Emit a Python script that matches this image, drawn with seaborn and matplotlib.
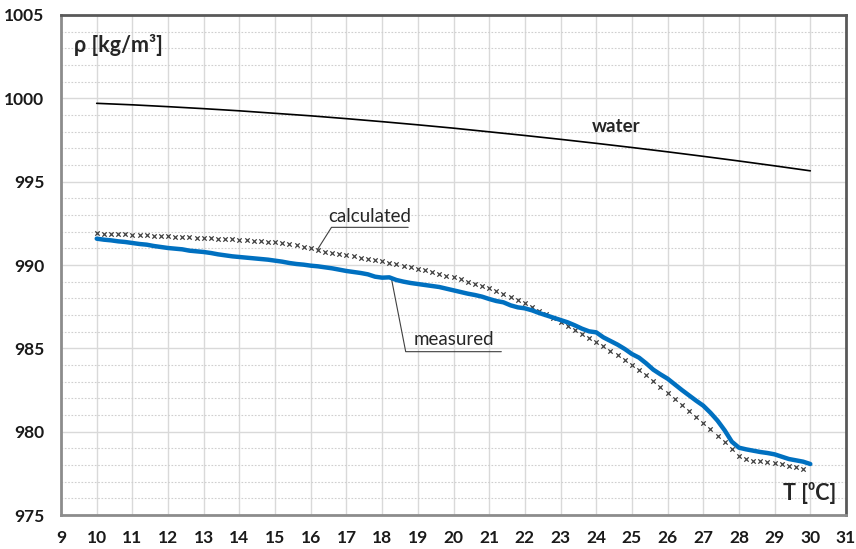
import numpy as np
import pandas as pd
import matplotlib
matplotlib.use("Agg")
import matplotlib.pyplot as plt
from matplotlib.ticker import MultipleLocator
import seaborn as sns

# Temperature grids
t_water = list(range(10, 31))
t_step = [round(10 + 0.2 * i, 1) for i in range(101)]

# Density of pure water [kg/m3]
rho_water = [999.70, 999.61, 999.50, 999.38, 999.25, 999.10, 998.95, 998.78, 998.60, 998.41,
             998.21, 997.99, 997.77, 997.54, 997.30, 997.05, 996.79, 996.52, 996.24, 995.95,
             995.65]

# Calculated density (x markers), 10.0 .. 29.8 step 0.2
rho_calc = [991.90, 991.88, 991.87, 991.85, 991.84, 991.82, 991.80, 991.78, 991.76, 991.74,
            991.72, 991.70, 991.68, 991.66, 991.64, 991.62, 991.60, 991.58, 991.56, 991.54,
            991.52, 991.50, 991.47, 991.44, 991.41, 991.38, 991.33, 991.26, 991.18, 991.08,
            991.00, 990.88, 990.80, 990.74, 990.66, 990.60, 990.52, 990.44, 990.36, 990.28,
            990.22, 990.12, 990.04, 989.96, 989.86, 989.78, 989.68, 989.58, 989.48, 989.36,
            989.26, 989.14, 989.00, 988.88, 988.76, 988.60, 988.44, 988.28, 988.10, 987.92,
            987.70, 987.48, 987.26, 987.04, 986.82, 986.58, 986.36, 986.12, 985.88, 985.62,
            985.38, 985.12, 984.86, 984.58, 984.30, 984.00, 983.70, 983.38, 983.04, 982.68,
            982.30, 981.96, 981.60, 981.24, 980.90, 980.54, 980.16, 979.76, 979.36, 978.94,
            978.54, 978.34, 978.26, 978.24, 978.18, 978.10, 978.04, 977.96, 977.86, 977.78]

# Measured density (blue line), 10.0 .. 30.0 step 0.2
rho_meas = [991.58, 991.52, 991.48, 991.42, 991.38, 991.32, 991.26, 991.22, 991.14, 991.08,
            991.02, 990.98, 990.94, 990.86, 990.82, 990.78, 990.72, 990.64, 990.58, 990.52,
            990.48, 990.44, 990.40, 990.36, 990.32, 990.26, 990.20, 990.12, 990.06, 990.02,
            989.96, 989.92, 989.86, 989.80, 989.72, 989.64, 989.58, 989.52, 989.44, 989.30,
            989.24, 989.26, 989.10, 989.00, 988.92, 988.86, 988.80, 988.74, 988.68, 988.58,
            988.48, 988.38, 988.28, 988.20, 988.10, 987.96, 987.84, 987.76, 987.58, 987.46,
            987.40, 987.28, 987.12, 986.98, 986.84, 986.70, 986.56, 986.38, 986.18, 986.02,
            985.96, 985.66, 985.44, 985.22, 984.96, 984.66, 984.44, 984.10, 983.72, 983.44,
            983.18, 982.84, 982.50, 982.18, 981.86, 981.56, 981.14, 980.66, 980.08, 979.40,
            979.04, 978.94, 978.86, 978.78, 978.72, 978.64, 978.50, 978.36, 978.28, 978.20,
            978.06]

x_ticks = list(range(9, 32))
y_ticks = list(range(975, 1006, 5))

df_water = pd.DataFrame({"T": t_water, "rho": rho_water})
df_calc = pd.DataFrame({"T": t_step[:len(rho_calc)], "rho": rho_calc})
df_meas = pd.DataFrame({"T": t_step, "rho": rho_meas})

sns.set_style("white")
plt.rcParams["font.family"] = ["Lato", "DejaVu Sans"]

fig = plt.figure(figsize=(8.56, 5.49), dpi=100)
ax = fig.add_axes([0.0713, 0.0619, 0.9170, 0.9108])

# grid
ax.xaxis.set_major_locator(MultipleLocator(1))
ax.yaxis.set_major_locator(MultipleLocator(5))
ax.yaxis.set_minor_locator(MultipleLocator(1))
ax.grid(True, which="major", color="#d9d9d9", lw=1.0)
ax.grid(True, which="minor", axis="y", color="#cfcfcf", lw=0.8, ls=(0, (1.5, 1.5)))
ax.set_axisbelow(True)

sns.lineplot(data=df_water, x="T", y="rho", color="black", lw=1.2, ax=ax)
sns.scatterplot(data=df_calc, x="T", y="rho", marker="x", s=10, color="#404040",
                linewidth=0.9, ax=ax, zorder=3)
sns.lineplot(data=df_meas, x="T", y="rho", color="#0070c0", lw=3.2, ax=ax, zorder=4)

ax.set_xlim(9, 31)
ax.set_ylim(975, 1005)
ax.set_xticks(x_ticks)
ax.set_yticks(y_ticks)
ax.set_xlabel("")
ax.set_ylabel("")
ax.tick_params(axis="both", which="both", length=0, labelsize=12.5, labelcolor="#1a1a1a")
ax.tick_params(axis="y", pad=12)
ax.tick_params(axis="x", pad=11)
for lab in ax.get_xticklabels() + ax.get_yticklabels():
    lab.set_fontweight("bold")

for side in ["left", "bottom"]:
    ax.spines[side].set_color("#8c8c8c")
    ax.spines[side].set_linewidth(2)
for side in ["top", "right"]:
    ax.spines[side].set_color("#595959")
    ax.spines[side].set_linewidth(2)

# axis titles inside the plot
ax.text(9.36, 1003.2, "ρ [kg/m³]", fontsize=15.5, fontweight="bold", color="#262626",
        ha="left", va="center")
ax.text(30.72, 976.3, "T [⁰C]", fontsize=15.5, fontweight="bold", color="#262626",
        ha="right", va="center")

# series annotations
ax.text(24.55, 998.3, "water", fontsize=13.5, fontweight="bold", ha="center", va="center")

ax.plot([16.18, 16.58, 18.73], [990.9, 992.26, 992.26], color="#404040", lw=0.8)
ax.text(17.65, 992.9, "calculated", fontsize=13.5, ha="center", va="center", color="#262626")

ax.plot([18.26, 18.66, 21.34], [989.19, 984.80, 984.80], color="#404040", lw=0.8)
ax.text(20.0, 985.56, "measured", fontsize=13.5, ha="center", va="center", color="#262626")

fig.savefig("out.png", dpi=100)
